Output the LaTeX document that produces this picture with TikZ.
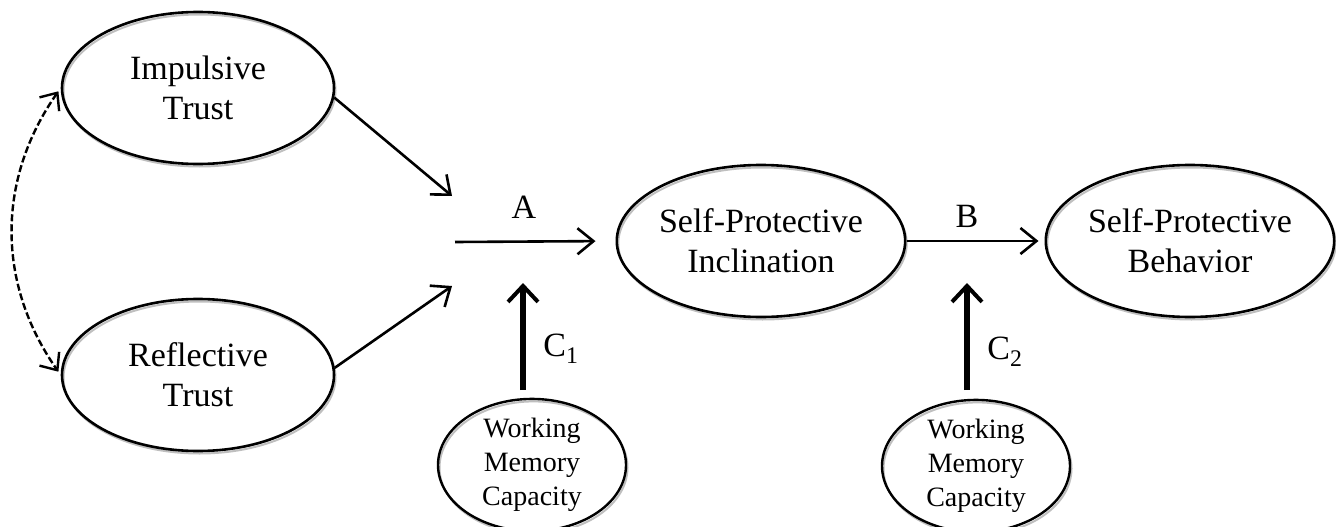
\documentclass[tikz,border=0pt]{standalone}
\usepackage{fontspec}
\setmainfont{Liberation Serif}
\usetikzlibrary{shapes.geometric,arrows.meta}
\begin{document}
\begin{tikzpicture}[x=1pt,y=-1pt,
  shadowed/.style={preaction={draw=gray!50,line width=2pt,transform canvas={shift={(1.5pt,-2.5pt)}}}},
  bigell/.style={ellipse,draw,line width=2.6pt,shadowed,minimum width=272pt,minimum height=152pt,inner sep=0pt,align=center,font=\fontsize{34}{40}\selectfont},
  smallell/.style={ellipse,draw,line width=2.4pt,shadowed,minimum width=188pt,minimum height=118pt,inner sep=0pt,align=center,font=\fontsize{28}{34}\selectfont},
  arr/.style={line width=2.6pt,-{Straight Barb[length=16pt,width=26pt,line width=2.6pt]}},
  thickarr/.style={line width=6pt,-{Straight Barb[length=16pt,width=30pt,line width=4pt]}},
  lbl/.style={font=\fontsize{34}{40}\selectfont,inner sep=0pt}]
\useasboundingbox (0,0) rectangle (1336,527);
\node[bigell] (imp) at (198,88) {Impulsive\\Trust};
\node[bigell] (refl) at (198,375) {Reflective\\Trust};
\node[bigell] (spi) at (761,241) {Self-Protective\\Inclination};
\node[bigell] (spb) at (1190,241) {Self-Protective\\Behavior};
\node[smallell] (wm1) at (532,465) {Working\\Memory\\Capacity};
\node[smallell] (wm2) at (976,466) {Working\\Memory\\Capacity};
\coordinate (j1) at (452,196);
\coordinate (j2) at (452,286);
\coordinate (aS) at (455,242);
\coordinate (c1a) at (523,390);
\coordinate (c1b) at (523,283);
\coordinate (c2a) at (967,390);
\coordinate (c2b) at (967,283);
\draw[arr] (imp.-4) -- (j1);
\draw[arr] (refl.3) -- (j2);
\draw[arr,shorten >=20pt] (aS) -- (spi.west);
\draw[arr,shorten >=6pt] (spi.east) -- (spb.west);
\draw[thickarr] (c1a) -- (c1b);
\draw[thickarr] (c2a) -- (c2b);
\draw[line width=2.4pt,dash pattern=on 7pt off 3pt,{Straight Barb[length=14pt,width=24pt,line width=2.4pt]}-{Straight Barb[length=14pt,width=24pt,line width=2.4pt]},shorten <=4pt,shorten >=4pt]
  (imp.west) to[out=235,in=125] (refl.west);
\node[lbl] (lA) at (524,207) {A};
\node[lbl] (lB) at (967,216) {B};
\node[lbl] (lC1) at (561,349) {C\textsubscript{1}};
\node[lbl] (lC2) at (1005,352) {C\textsubscript{2}};
\end{tikzpicture}
\end{document}
